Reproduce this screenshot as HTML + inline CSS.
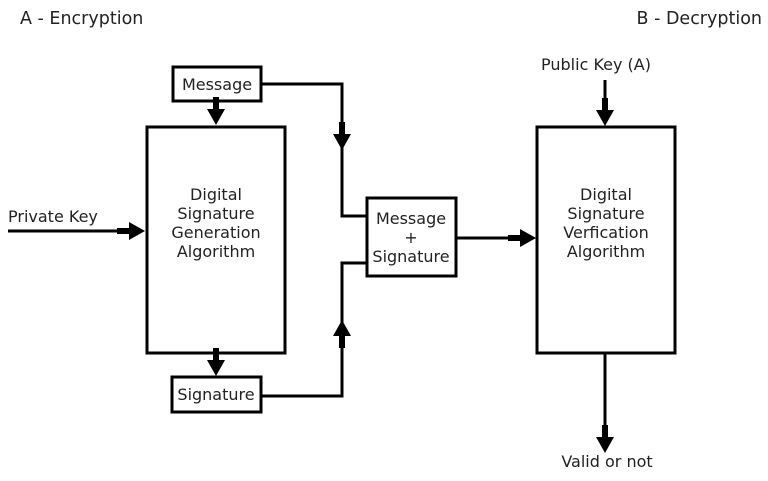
<!DOCTYPE html>
<html><head><style>
body{margin:0;background:#fff;}
svg text{font-family:"DejaVu Sans","Liberation Sans",sans-serif;fill:#222;}
</style></head><body>
<svg width="768" height="476" viewBox="0 0 768 476" xmlns="http://www.w3.org/2000/svg">
<defs>
<g id="ad"><rect x="-3" y="-18" width="6" height="14" fill="#000"/><polygon points="-9,-6 9,-6 0,10" fill="#000"/></g>
</defs>
<text x="20" y="24" font-size="17.5">A - Encryption</text>
<text x="762" y="24" font-size="17.5" text-anchor="end">B - Decryption</text>
<g fill="none" stroke="#000" stroke-width="3">
<rect x="173" y="67" width="88" height="34"/>
<rect x="147" y="127" width="138" height="226"/>
<rect x="172" y="377" width="89" height="35"/>
<rect x="367" y="198" width="89" height="78"/>
<rect x="537" y="127" width="138" height="226"/>
<polyline points="261,84 342,84 342,216 367,216"/>
<polyline points="261,396 342,396 342,263 367,263"/>
<line x1="8" y1="231" x2="130" y2="231"/>
<line x1="456" y1="238" x2="520" y2="238"/>
<line x1="605" y1="80" x2="605" y2="110"/>
<line x1="605" y1="353" x2="605" y2="440"/>
</g>
<g transform="translate(216,115)"><use href="#ad"/></g>
<g transform="translate(216,366)"><use href="#ad"/></g>
<g transform="translate(342,140)"><use href="#ad"/></g>
<g transform="translate(342,330) rotate(180)"><use href="#ad"/></g>
<g transform="translate(135,231) rotate(-90)"><use href="#ad"/></g>
<g transform="translate(526,238) rotate(-90)"><use href="#ad"/></g>
<g transform="translate(605,116)"><use href="#ad"/></g>
<g transform="translate(605,443)"><use href="#ad"/></g>
<text x="8" y="222" font-size="16">Private Key</text>
<g font-size="16" text-anchor="middle">
<text x="217" y="90">Message</text>
<text x="216" y="400">Signature</text>
<text x="216" y="200">Digital</text><text x="216" y="219">Signature</text><text x="216" y="238">Generation</text><text x="216" y="257">Algorithm</text>
<text x="411" y="224">Message</text><text x="411" y="243">+</text><text x="411" y="262">Signature</text>
<text x="606" y="200">Digital</text><text x="606" y="219">Signature</text><text x="606" y="238">Verfication</text><text x="606" y="257">Algorithm</text>
<text x="596" y="70">Public Key (A)</text>
<text x="607" y="467">Valid or not</text>
</g>
</svg>
</body></html>
